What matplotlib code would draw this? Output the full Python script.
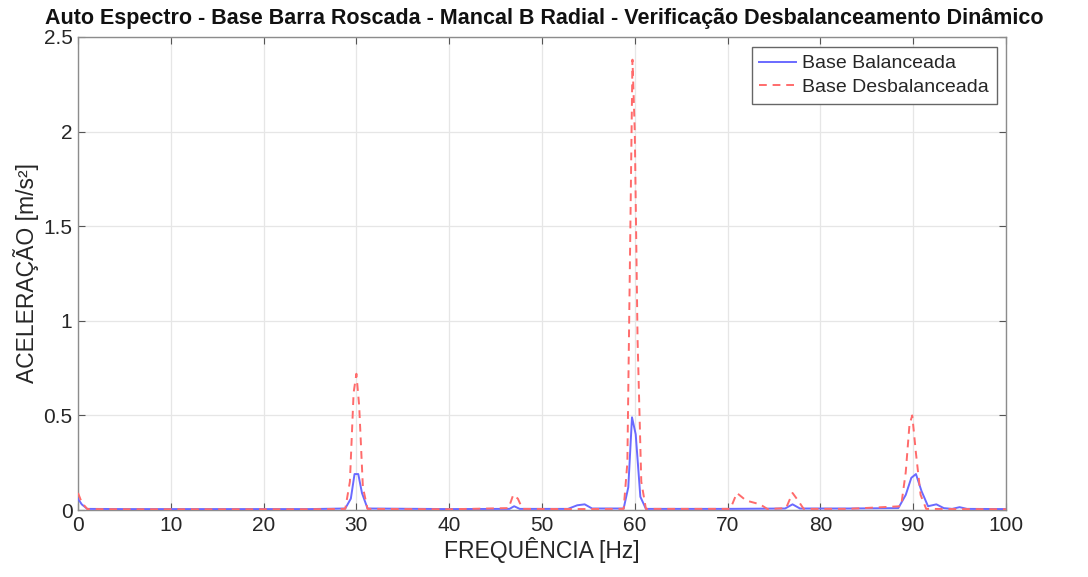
import matplotlib
matplotlib.use("Agg")
import matplotlib.pyplot as plt

# Spectrum vertices (frequency in Hz, acceleration in m/s²)
freq_bal = [0, 0.4, 1.0, 5, 10, 15, 20, 25, 28.8, 29.4, 29.8, 30.2, 30.6, 31.2,
            40, 46.5, 47.0, 47.6, 52.8, 53.8, 54.6, 55.4, 58.8, 59.3, 59.7, 60.1,
            60.6, 61.2, 70, 76.2, 77.0, 77.8, 83, 88.4, 89.2, 89.8, 90.3, 90.9,
            91.6, 92.5, 93.3, 94.2, 95.0, 95.8, 100]
acc_bal = [0.06, 0.03, 0.006, 0.005, 0.005, 0.005, 0.005, 0.005, 0.008, 0.06, 0.19, 0.19,
           0.09, 0.008, 0.005, 0.006, 0.02, 0.006, 0.006, 0.025, 0.03, 0.008, 0.008, 0.12, 0.49,
           0.40, 0.07, 0.006, 0.006, 0.008, 0.03, 0.008, 0.008, 0.01, 0.08, 0.17, 0.19,
           0.10, 0.02, 0.03, 0.01, 0.006, 0.015, 0.006, 0.005]

freq_unb = [0, 0.4, 1.0, 5, 10, 15, 20, 25, 28.8, 29.3, 29.7, 30.0, 30.3, 30.7,
            31.2, 40, 46.4, 46.9, 47.4, 47.9, 53, 58.8, 59.2, 59.5, 59.75, 60.0,
            60.3, 60.7, 61.2, 70.3, 71.0, 72.0, 73.5, 74.3, 76.3, 77.0, 77.6, 78.2,
            83, 88.7, 89.2, 89.6, 89.9, 90.3, 90.8, 91.4, 95, 100]
acc_unb = [0.09, 0.04, 0.005, 0.004, 0.004, 0.004, 0.004, 0.004, 0.006, 0.15, 0.62, 0.72,
           0.55, 0.12, 0.006, 0.004, 0.01, 0.08, 0.06, 0.006, 0.005, 0.006, 0.25, 1.4,
           2.38, 2.0, 0.9, 0.15, 0.006, 0.006, 0.09, 0.05, 0.03, 0.005, 0.01, 0.09, 0.05,
           0.006, 0.006, 0.02, 0.2, 0.45, 0.50, 0.3, 0.08, 0.006, 0.005, 0.004]

x_ticks = list(range(0, 101, 10))
y_ticks = [0, 0.5, 1, 1.5, 2, 2.5]
y_tick_labels = ["0", "0.5", "1", "1.5", "2", "2.5"]

plt.rcParams["font.family"] = ["Liberation Sans", "DejaVu Sans"]
text_gray = "#262626"

fig = plt.figure(figsize=(10.88, 5.77), dpi=100)
ax = fig.add_axes([0.0717, 0.1161, 0.8529, 0.8198])

ax.plot(freq_bal, acc_bal, color="#6a6aff", lw=1.4, label="Base Balanceada", zorder=3)
ax.plot(freq_unb, acc_unb, color="#ff6b6b", lw=1.4, ls=(0, (4, 3)),
        label="Base Desbalanceada", zorder=4)

ax.set_xlim(0, 100)
ax.set_ylim(0, 2.5)
ax.set_xticks(x_ticks)
ax.set_yticks(y_ticks)
ax.set_yticklabels(y_tick_labels)
ax.grid(True, color="#e6e6e6", lw=0.9)
ax.set_axisbelow(True)
ax.tick_params(direction="in", length=5, colors="#555555", labelcolor=text_gray,
               labelsize=15, top=True, right=True, labeltop=False, labelright=False,
               pad=4)
for s in ax.spines.values():
    s.set_color("#8c8c8c")
    s.set_linewidth(1.0)

ax.set_xlabel("FREQUÊNCIA [Hz]", fontsize=16.5, color=text_gray, labelpad=2)
ax.set_ylabel("ACELERAÇÃO [m/s²]", fontsize=16.5, color=text_gray, labelpad=3)
fig.text(0.5, 1 - 24 / 577,
         "Auto Espectro - Base Barra Roscada - Mancal B Radial - Verificação Desbalanceamento Dinâmico",
         ha="center", va="baseline", fontsize=15.5, fontweight="bold", color="#111111")

leg = ax.legend(loc="upper right", bbox_to_anchor=(0.990, 0.979), borderaxespad=0,
                fontsize=14, frameon=True, fancybox=False, edgecolor="#666666",
                framealpha=1, handlelength=1.9, handletextpad=0.3, borderpad=0.4,
                labelspacing=0.3)
for t in leg.get_texts():
    t.set_color(text_gray)

fig.savefig("out.png", dpi=100)
